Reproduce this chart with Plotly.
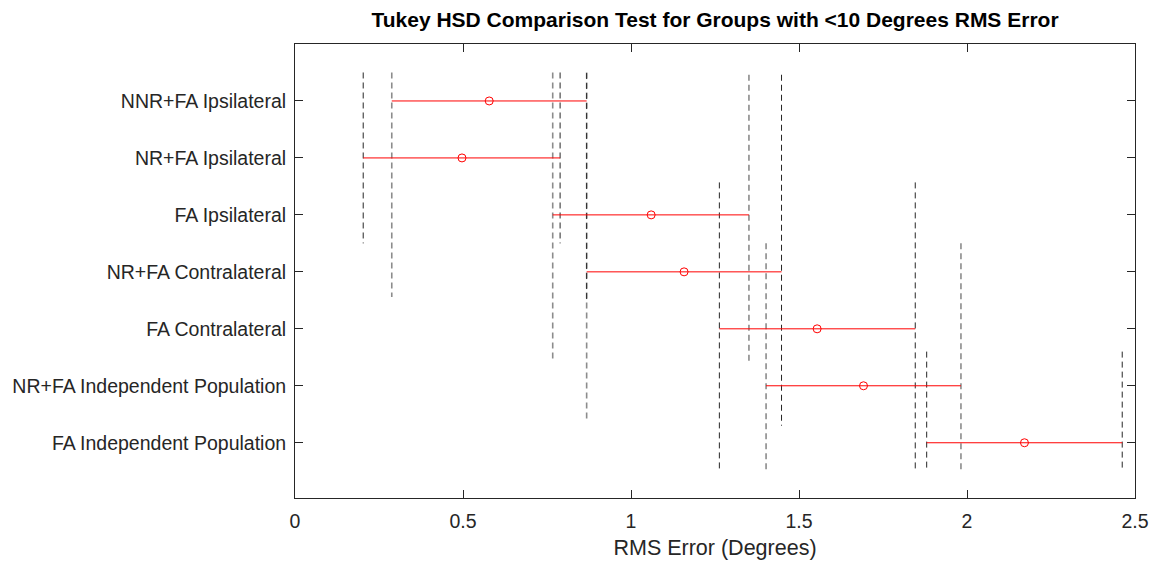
import plotly.graph_objects as go

# ---- data ----
groups = ["NNR+FA Ipsilateral", "NR+FA Ipsilateral", "FA Ipsilateral",
          "NR+FA Contralateral", "FA Contralateral",
          "NR+FA Independent Population", "FA Independent Population"]
means = [0.578, 0.497, 1.060, 1.158, 1.554, 1.692, 2.171]
lower = [0.288, 0.203, 0.767, 0.868, 1.263, 1.402, 1.880]
upper = [0.868, 0.789, 1.351, 1.448, 1.846, 1.982, 2.462]

# dashed reference lines: x value, start row, end row
black_x = [0.203, 0.789, 0.868, 1.263, 1.448, 1.846, 1.880, 2.462]
black_y0 = [0.50, 0.50, 0.51, 2.43, 0.54, 2.43, 5.40, 5.40]
black_y1 = [3.50, 3.50, 4.49, 7.46, 6.70, 7.46, 7.46, 7.50]
gray_x = [0.288, 0.767, 0.868, 1.351, 1.402, 1.982]
gray_y0 = [0.50, 0.50, 0.50, 0.54, 3.50, 3.50]
gray_y1 = [4.44, 5.53, 6.63, 5.58, 7.50, 7.50]

x_ticks = [0, 0.5, 1, 1.5, 2, 2.5]
x_ticktext = ["0", "0.5", "1", "1.5", "2", "2.5"]

rows = list(range(1, len(groups) + 1))

fig = go.Figure()

def seg_trace(xs, y0s, y1s, color, width):
    X, Y = [], []
    for x, a, b in zip(xs, y0s, y1s):
        X += [x, x, None]
        Y += [a, b, None]
    return go.Scatter(x=X, y=Y, mode="lines", hoverinfo="skip",
                      line=dict(color=color, width=width, dash="6px,4px"),
                      showlegend=False)

fig.add_trace(seg_trace(gray_x, gray_y0, gray_y1, "#8c8c8c", 1.6))
fig.add_trace(seg_trace(black_x, black_y0, black_y1, "#262626", 1))

# interval lines
IX, IY = [], []
for lo, hi, r in zip(lower, upper, rows):
    IX += [lo, hi, None]
    IY += [r, r, None]
fig.add_trace(go.Scatter(x=IX, y=IY, mode="lines", line=dict(color="#ff0000", width=1),
                         showlegend=False, hoverinfo="skip"))
fig.add_trace(go.Scatter(x=means, y=rows, mode="markers",
                         marker=dict(symbol="circle-open", size=8, color="#ff0000",
                                     line=dict(width=1)),
                         showlegend=False))

font = "Liberation Sans, Arial, Helvetica, sans-serif"
fig.update_layout(
    width=1154, height=563,
    margin=dict(l=295, r=19, t=44, b=65, autoexpand=False),
    paper_bgcolor="white", plot_bgcolor="white",
    font=dict(family=font, size=19.5, color="#262626"),
    title=dict(text="<b>Tukey HSD Comparison Test for Groups with <10 Degrees RMS Error</b>",
               x=0.5, xref="paper", xanchor="center",
               y=1 - 20 / 563, yref="container", yanchor="middle",
               font=dict(size=21, color="#000000")),
)
fig.update_xaxes(range=[0, 2.5], tickvals=x_ticks, ticktext=x_ticktext, automargin=False,
                 ticks="inside", ticklen=8, tickcolor="#262626", mirror="allticks",
                 showline=True, linecolor="#262626", linewidth=1, showgrid=False,
                 zeroline=False, tickfont=dict(size=19.5), ticklabelstandoff=6,
                 title=dict(text="RMS Error (Degrees)", font=dict(size=21.5), standoff=8))
fig.update_yaxes(range=[7.97, 0], tickvals=rows, ticktext=groups, automargin=False,
                 ticks="inside", ticklen=8, tickcolor="#262626", mirror="allticks",
                 showline=True, linecolor="#262626", linewidth=1, showgrid=False,
                 zeroline=False, tickfont=dict(size=19.5), ticklabelstandoff=4)

fig.write_html("out.html", config={"displayModeBar": False},
               post_script="document.body.style.margin='0';document.body.style.overflow='hidden';")
